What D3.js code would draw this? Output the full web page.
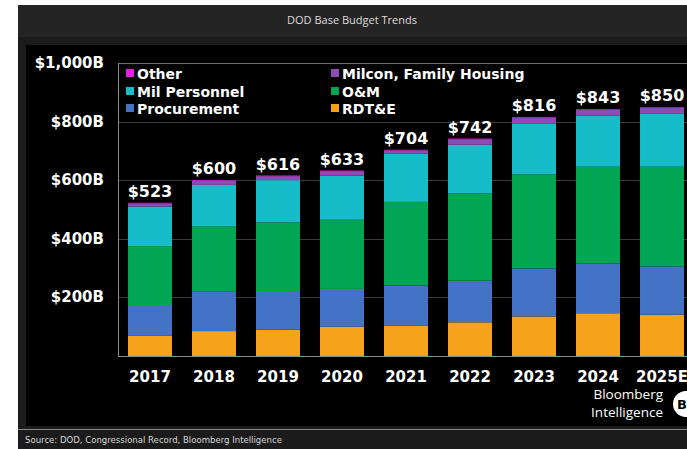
<!DOCTYPE html>
<html>
<head>
<meta charset="utf-8">
<script src="https://cdn.jsdelivr.net/npm/d3@7"></script>
<style>
  html, body { margin: 0; padding: 0; background: #ffffff; }
  svg { display: block; }
</style>
</head>
<body>
<svg id="chart" width="687" height="449"></svg>
<script>
// DoD base budget by appropriation title, $B
const years       = ["2017", "2018", "2019", "2020", "2021", "2022", "2023", "2024", "2025E"];
const totals      = [523, 600, 616, 633, 704, 742, 816, 843, 850];
const rdte        = [70, 85, 90, 100, 103, 115, 135, 146, 141];
const procurement = [104, 134, 132, 129, 138, 142, 164, 170, 165];
const om          = [201, 224, 234, 236, 285, 298, 321, 330, 340];
const milPers     = [135, 141, 144, 151, 164, 166, 174, 175, 182];
const milcon      = [11, 14, 14, 15, 12, 19, 20, 20, 20];
const other       = [2, 2, 2, 2, 2, 2, 2, 2, 2];
const yTicks      = [200, 400, 600, 800, 1000];
const yTickLabels = ["$200B", "$400B", "$600B", "$800B", "$1,000B"];

// stacking order, bottom to top
const seriesKeys   = ["RDT&E", "Procurement", "O&M", "Mil Personnel", "Milcon, Family Housing", "Other"];
const seriesValues = [rdte, procurement, om, milPers, milcon, other];
const seriesColors = ["#f7a21b", "#4472c4", "#00a651", "#17bcc9", "#8e4bb5", "#e41fe0"];

// legend layout: two columns, three rows
const legendOrder = [
  ["Other", "Milcon, Family Housing"],
  ["Mil Personnel", "O&M"],
  ["Procurement", "RDT&E"]
];

const rows = years.map((y, i) => {
  const r = { year: y };
  seriesKeys.forEach((k, j) => { r[k] = seriesValues[j][i]; });
  return r;
});

const svg = d3.select("#chart");
const BOLD = "'DejaVu Sans', Verdana, sans-serif";

// frame
svg.append("rect").attr("x", 18).attr("y", 5).attr("width", 669).attr("height", 444).attr("fill", "#1b1b1b");
svg.append("rect").attr("x", 18).attr("y", 5).attr("width", 669).attr("height", 32).attr("fill", "#242424");
svg.append("rect").attr("x", 26).attr("y", 45).attr("width", 661).attr("height", 381).attr("fill", "#000000");
svg.append("line").attr("x1", 18).attr("x2", 687).attr("y1", 429.5).attr("y2", 429.5)
  .attr("stroke", "#8a8a8a").attr("stroke-width", 1);

svg.append("text")
  .attr("x", 352).attr("y", 24)
  .attr("text-anchor", "middle")
  .attr("fill", "#dcdcdc")
  .style("font-family", "'Open Sans', 'Noto Sans', sans-serif")
  .style("font-size", "11px")
  .text("DOD Base Budget Trends");

svg.append("text")
  .attr("x", 25).attr("y", 443)
  .attr("fill", "#d8d8d8")
  .style("font-family", "'Liberation Sans Narrow', 'DejaVu Sans Condensed', sans-serif")
  .style("font-size", "9.5px")
  .text("Source: DOD, Congressional Record, Bloomberg Intelligence");

// scales
const x = d3.scaleBand().domain(years).range([118, 694]).paddingInner(0.3125).paddingOuter(0.156);
const y = d3.scaleLinear().domain([0, 1000]).range([356, 63]);

// gridlines
svg.append("g").selectAll("line").data(yTicks).join("line")
  .attr("x1", 118).attr("x2", 687)
  .attr("y1", d => Math.round(y(d)) + 0.5).attr("y2", d => Math.round(y(d)) + 0.5)
  .attr("stroke", d => d === 1000 ? "#6e6e6e" : "#3a3a3a")
  .attr("stroke-width", 1);

// y tick labels
svg.append("g").selectAll("text").data(yTicks).join("text")
  .attr("x", 104).attr("y", d => y(d) + 5)
  .attr("text-anchor", "end")
  .attr("fill", "#ffffff")
  .style("font-family", BOLD).style("font-weight", "bold").style("font-size", "15px")
  .text((d, i) => yTickLabels[i]);

// stacked bars
const stacked = d3.stack().keys(seriesKeys)(rows);
svg.append("g").selectAll("g").data(stacked).join("g")
  .attr("fill", (d, i) => seriesColors[i])
  .selectAll("rect").data(d => d).join("rect")
  .attr("x", d => x(d.data.year))
  .attr("width", x.bandwidth())
  .attr("y", d => y(d[1]))
  .attr("height", d => y(d[0]) - y(d[1]));

// axis lines
svg.append("line").attr("x1", 118.5).attr("x2", 118.5).attr("y1", 63).attr("y2", 356)
  .attr("stroke", "#8c8c8c").attr("stroke-width", 1);
svg.append("line").attr("x1", 118).attr("x2", 687).attr("y1", 356.5).attr("y2", 356.5)
  .attr("stroke", "#8c8c8c").attr("stroke-width", 1);

// total labels
svg.append("g").selectAll("text").data(years).join("text")
  .attr("x", d => x(d) + x.bandwidth() / 2)
  .attr("y", (d, i) => y(totals[i]) - 6)
  .attr("text-anchor", "middle")
  .attr("fill", "#ffffff")
  .style("font-family", BOLD).style("font-weight", "bold").style("font-size", "16px")
  .text((d, i) => "$" + totals[i]);

// x labels
svg.append("g").selectAll("text").data(years).join("text")
  .attr("x", d => x(d) + x.bandwidth() / 2)
  .attr("y", 382)
  .attr("text-anchor", "middle")
  .attr("fill", "#ffffff")
  .style("font-family", BOLD).style("font-weight", "bold").style("font-size", "15px")
  .text(d => d);

// legend
const colX = [125, 330];
const rowY = [73, 91, 108];
legendOrder.forEach((row, ri) => {
  row.forEach((key, ci) => {
    const idx = seriesKeys.indexOf(key);
    const g = svg.append("g").attr("transform", `translate(${colX[ci]},${rowY[ri]})`);
    g.append("rect").attr("x", 1).attr("y", -4).attr("width", 8).attr("height", 8).attr("fill", seriesColors[idx]);
    g.append("text").attr("x", 12).attr("y", 5.5)
      .attr("fill", "#ffffff")
      .style("font-family", BOLD).style("font-weight", "bold").style("font-size", "14px")
      .text(key);
  });
});

// branding
const brand = svg.append("g")
  .attr("fill", "#ffffff")
  .style("font-family", "'Open Sans', 'Noto Sans', sans-serif")
  .style("font-size", "13.5px")
  .attr("text-anchor", "end");
brand.append("text").attr("x", 663).attr("y", 399).text("Bloomberg");
brand.append("text").attr("x", 663).attr("y", 417).text("Intelligence");
svg.append("circle").attr("cx", 686).attr("cy", 404).attr("r", 13).attr("fill", "#ffffff");
svg.append("text").attr("x", 677).attr("y", 409)
  .attr("fill", "#000000")
  .style("font-family", BOLD).style("font-weight", "bold").style("font-size", "13px")
  .text("B");
</script>
</body>
</html>
